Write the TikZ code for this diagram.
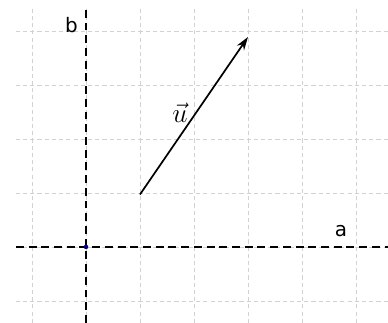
\documentclass[tikz,border=0pt]{standalone}
\usepackage{fontspec}
\newfontfamily\axisfont{DejaVu Sans}
\usetikzlibrary{arrows.meta}
\tikzset{
  gridline/.style={gray!35,line width=0.4pt,dash pattern=on 2.2pt off 1.6pt},
  axisline/.style={black,line width=1.1pt,dash pattern=on 4.2pt off 2.5pt},
  axislabel/.style={font=\axisfont\fontsize{10.5}{12}\selectfont,inner sep=0pt},
}
\begin{document}
\begin{tikzpicture}[x={(1cm,0cm)},y={(0cm,0.972cm)}]
        \useasboundingbox (-1.593,-1.448) rectangle (5.593,4.705);
        \draw[gridline] (-1.3,-1.448) grid (5.593,4.55);
        \draw[axisline] (-1.3,0)--(5.593,0);
        \draw[axisline] (0,-1.448)--(0,4.55);
        \node[axislabel] (a) at (4.72,0.3) {a};
        \node[axislabel] (b) at (-0.27,4.22) {b};
        \fill[blue!50!black] (0,0) circle (1.2pt);
        \coordinate (P) at (1,1);
        \coordinate (Q) at (3,4);
        \draw[line width=0.9pt,-{Stealth[length=7pt,width=4.5pt]}] (P)--(Q);
        \node[font=\Large,inner sep=0pt] (u) at (1.74,2.55) {$\vec{u}$};
        \end{tikzpicture}
\end{document}
